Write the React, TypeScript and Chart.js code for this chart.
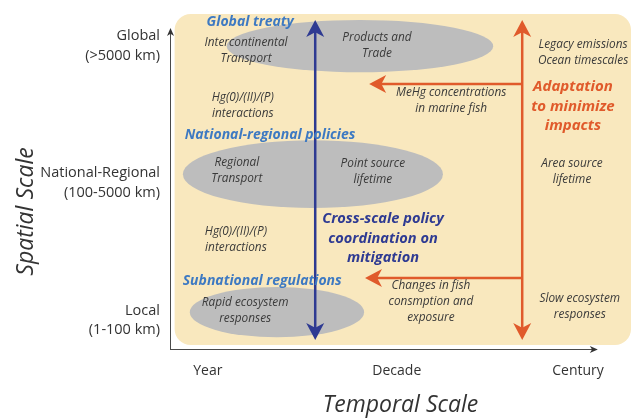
import React, { useEffect, useRef } from 'react';
import { Chart, registerables } from 'chart.js';
Chart.register(...registerables);

// Axis categories (temporal and spatial scales)
const timeLabels = ['Year', 'Decade', 'Century'];
const timeTicks = [8.2, 49.2, 88.5];
const spaceLabels = [['Local', '(1-100 km)'], ['National-Regional', '(100-5000 km)'], ['Global', '(>5000 km)']];
const spaceTicks = [8.5, 49.6, 90.4];

// Grey process zones (centre and half extents, in axis units)
const zoneNames = ['Global zone', 'National-regional zone', 'Local zone'];
const zoneCenterX = [41.2, 31.0, 23.2];
const zoneCenterY = [90.4, 52.2, 11.0];
const zoneHalfX = [28.9, 28.2, 18.9];
const zoneHalfY = [7.8, 10.1, 7.5];

// Arrows (axis units)
const arrowNames = ['mitigation', 'adaptation', 'marine fish', 'fish consumption'];
const arrowFromX = [31.5, 76.4, 76.4, 76.4];
const arrowFromY = [2.7, 2.7, 79.1, 21.2];
const arrowToX = [31.5, 76.4, 43.2, 42.3];
const arrowToY = [98.2, 98.2, 79.1, 21.2];
const arrowTwoHeads = [true, true, false, false];
const arrowKind = ['mitigation', 'adaptation', 'adaptation', 'adaptation'];

// Annotations (centre of each text block, axis units)
const noteText: string[][] = [
  ['Global treaty'],
  ['Intercontinental', 'Transport'],
  ['Products and', 'Trade'],
  ['Hg(0)/(II)/(P)', 'interactions'],
  ['National-regional policies'],
  ['Regional', 'Transport'],
  ['Point source', 'lifetime'],
  ['Cross-scale policy', 'coordination on', 'mitigation'],
  ['Hg(0)/(II)/(P)', 'interactions'],
  ['Subnational regulations'],
  ['Rapid ecosystem', 'responses'],
  ['Changes in fish', 'consmption and', 'exposure'],
  ['MeHg concentrations', 'in marine fish'],
  ['Legacy emissions', 'Ocean timescales'],
  ['Adaptation', 'to minimize', 'impacts'],
  ['Area source', 'lifetime'],
  ['Slow ecosystem', 'responses'],
];
const noteX = [17.4, 16.5, 44.9, 15.8, 21.7, 14.5, 44.0, 46.2, 14.3, 20.0, 16.3, 56.6, 61.0, 89.6, 87.4, 87.2, 88.9];
const noteY = [97.6, 89.1, 90.7, 72.7, 63.9, 53.1, 52.8, 33.0, 32.5, 20.3, 11.5, 14.0, 74.0, 88.4, 72.4, 52.8, 12.5];
const noteKind = ['policy', 'process', 'process', 'process', 'policy', 'process', 'process', 'mitigation', 'process',
  'policy', 'process', 'process', 'process', 'process', 'adaptation', 'process', 'process'];

// Background panel and axes extents (axis units)
const panelX = [1.0, 100];
const panelY = [1.2, 100];
const axisEndX = 92.8;
const axisEndY = 95.8;

const FONT = '"Open Sans", "DejaVu Sans", sans-serif';
const textStyles: Record<string, { font: string; color: string; lh: number }> = {
  policy: { font: `italic bold 14px ${FONT}`, color: '#3d79c2', lh: 18 },
  process: { font: `italic 11.8px ${FONT}`, color: '#3a3a3a', lh: 16 },
  mitigation: { font: `italic bold 14.6px ${FONT}`, color: '#2e3a92', lh: 19.5 },
  adaptation: { font: `italic bold 15px ${FONT}`, color: '#e05a2b', lh: 19.5 },
};
const arrowStyles: Record<string, { color: string; width: number; head: number; half: number }> = {
  mitigation: { color: '#2e3a92', width: 2.5, head: 17, half: 9 },
  adaptation: { color: '#e05a2b', width: 2.5, head: 17, half: 9 },
};

function drawHead(ctx: CanvasRenderingContext2D, tx: number, ty: number, fx: number, fy: number, len: number, half: number, color: string) {
  const ang = Math.atan2(ty - fy, tx - fx);
  ctx.save();
  ctx.translate(tx, ty);
  ctx.rotate(ang);
  ctx.beginPath();
  ctx.moveTo(0, 0);
  ctx.lineTo(-len, -half);
  ctx.lineTo(-len * 0.72, 0);
  ctx.lineTo(-len, half);
  ctx.closePath();
  ctx.fillStyle = color;
  ctx.fill();
  ctx.restore();
}

const diagramPlugin = {
  id: 'diagram',
  beforeDatasetsDraw(chart: any) {
    const { ctx, scales } = chart;
    const X = (v: number) => scales.x.getPixelForValue(v);
    const Y = (v: number) => scales.y.getPixelForValue(v);
    ctx.save();
    // panel
    const px0 = X(panelX[0]), px1 = X(panelX[1]), py0 = Y(panelY[1]), py1 = Y(panelY[0]);
    ctx.beginPath();
    (ctx as any).roundRect(px0, py0, px1 - px0, py1 - py0, 16);
    ctx.fillStyle = '#f9e8be';
    ctx.fill();

    // axes
    ctx.strokeStyle = '#4a4a4a';
    ctx.lineWidth = 1;
    ctx.beginPath();
    ctx.moveTo(X(0) + 0.5, Y(0));
    ctx.lineTo(X(0) + 0.5, Y(axisEndY) + 4);
    ctx.moveTo(X(0), Y(0) + 0.5);
    ctx.lineTo(X(axisEndX) - 4, Y(0) + 0.5);
    ctx.stroke();
    drawHead(ctx, X(0) + 0.5, Y(axisEndY), X(0) + 0.5, Y(0), 8, 3.5, '#333');
    drawHead(ctx, X(axisEndX), Y(0) + 0.5, X(0), Y(0) + 0.5, 8, 3.5, '#333');

    // zones
    ctx.fillStyle = '#bdbdbd';
    zoneNames.forEach((_, i) => {
      const cx = X(zoneCenterX[i]), cy = Y(zoneCenterY[i]);
      const rx = X(zoneCenterX[i] + zoneHalfX[i]) - cx;
      const ry = cy - Y(zoneCenterY[i] + zoneHalfY[i]);
      ctx.beginPath();
      ctx.ellipse(cx, cy, rx, ry, 0, 0, Math.PI * 2);
      ctx.fill();
    });

    // arrows
    arrowNames.forEach((_, i) => {
      const st = arrowStyles[arrowKind[i]];
      const fx = X(arrowFromX[i]), fy = Y(arrowFromY[i]);
      const tx = X(arrowToX[i]), ty = Y(arrowToY[i]);
      const dx = tx - fx, dy = ty - fy;
      const L = Math.hypot(dx, dy);
      const ux = dx / L, uy = dy / L;
      const sx = arrowTwoHeads[i] ? fx + ux * st.head * 0.7 : fx;
      const sy = arrowTwoHeads[i] ? fy + uy * st.head * 0.7 : fy;
      ctx.strokeStyle = st.color;
      ctx.lineWidth = st.width;
      ctx.beginPath();
      ctx.moveTo(sx, sy);
      ctx.lineTo(tx - ux * st.head * 0.7, ty - uy * st.head * 0.7);
      ctx.stroke();
      drawHead(ctx, tx, ty, fx, fy, st.head, st.half, st.color);
      if (arrowTwoHeads[i]) drawHead(ctx, fx, fy, tx, ty, st.head, st.half, st.color);
    });

    // annotations
    ctx.textAlign = 'center';
    ctx.textBaseline = 'middle';
    noteText.forEach((lines, i) => {
      const st = textStyles[noteKind[i]];
      ctx.font = st.font;
      ctx.fillStyle = st.color;
      const cx = X(noteX[i]), cy = Y(noteY[i]);
      const top = cy - ((lines.length - 1) * st.lh) / 2;
      lines.forEach((t, k) => ctx.fillText(t, cx, top + k * st.lh));
    });

    // axis titles
    ctx.fillStyle = '#333';
    ctx.font = `italic 23px ${FONT}`;
    ctx.save();
    ctx.translate(26, (Y(0) + Y(100)) / 2 + 30);
    ctx.rotate(-Math.PI / 2);
    ctx.fillText('Spatial Scale', 0, 0);
    ctx.restore();
    ctx.fillText('Temporal Scale', (X(0) + X(100)) / 2, 405);
    ctx.restore();
  },
};

export default function App() {
  const ref = useRef<HTMLCanvasElement>(null);
  useEffect(() => {
    if (!ref.current) return;
    const chart = new Chart(ref.current, {
      type: 'scatter',
      data: { datasets: [{ data: [], pointRadius: 0 }] },
      options: {
        animation: false,
        responsive: true,
        maintainAspectRatio: false,
        layout: { padding: { top: 14, right: 0, left: 0, bottom: 0 } },
        plugins: { legend: { display: false }, tooltip: { enabled: false } },
        scales: {
          x: {
            type: 'linear',
            min: 0,
            max: 100,
            grid: { display: false, drawTicks: false },
            border: { display: false },
            afterBuildTicks: (s: any) => { s.ticks = timeTicks.map((v) => ({ value: v })); },
            afterFit: (s: any) => { s.height = 69; s.paddingLeft = 0; s.paddingRight = 0; },
            ticks: {
              autoSkip: false,
              maxRotation: 0,
              padding: 14,
              color: '#333',
              font: { family: FONT, size: 14 },
              callback: (_v: any, i: number) => timeLabels[i],
            },
          },
          y: {
            type: 'linear',
            min: 0,
            max: 100,
            grid: { display: false, drawTicks: false },
            border: { display: false },
            afterBuildTicks: (s: any) => { s.ticks = spaceTicks.map((v) => ({ value: v })); },
            afterFit: (s: any) => { s.width = 170; s.paddingTop = 0; s.paddingBottom = 0; },
            ticks: {
              autoSkip: false,
              padding: 10,
              color: '#333',
              font: { family: FONT, size: 14.5, lineHeight: 1.35 },
              callback: (_v: any, i: number) => spaceLabels[i],
            },
          },
        },
      },
      plugins: [diagramPlugin],
    } as any);
    return () => chart.destroy();
  }, []);
  return (
    <div style={{ position: 'absolute', left: 0, top: 0, width: 631, height: 418, background: '#fff' }}>
      <canvas ref={ref} />
    </div>
  );
}
